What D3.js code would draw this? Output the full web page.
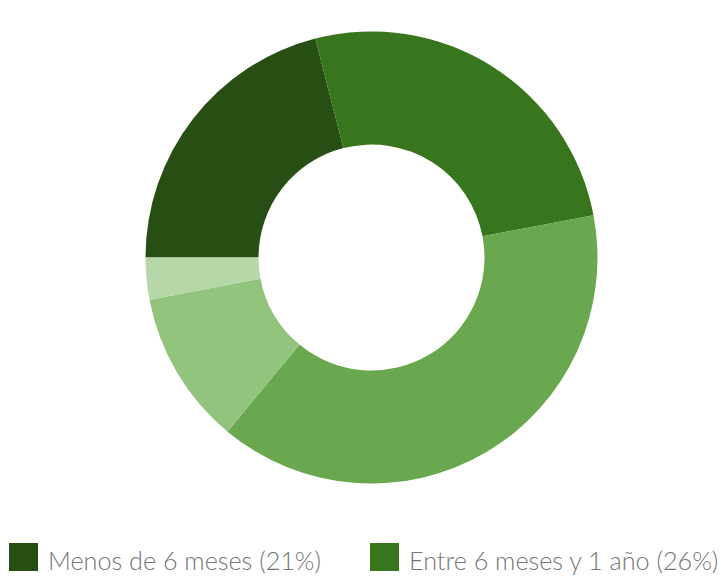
<!DOCTYPE html>
<html>
<head>
<meta charset="utf-8">
<script src="https://cdn.jsdelivr.net/npm/d3@7"></script>
<style>
	body { margin: 0; background: white; }
	svg { display: block; }
</style>
</head>
<body>
<div id="chart"></div>
<script>
// Data.
const categories = ["Menos de 6 meses", "Entre 6 meses y 1 año", "Entre 1 y 2 años", "Entre 2 y 5 años", "Más de 5 años"];
const values = [21, 26, 39, 11, 3];
const colors = ["#274e13", "#38761d", "#6aa84f", "#93c47d", "#b6d7a8"];
const legendShown = 2; // only the first legend page fits in the window


const width = 721, height = 579;
const cx = 371.5, cy = 257.5;
const outerR = 226, innerR = 113;

let svg = d3.select("#chart")
  .append("svg")
	.attr("width", width)
	.attr("height", height);

let pie = d3.pie()
  .value(d=>d.value)
  .sort(null)
  .startAngle(-Math.PI/2)
  .endAngle(3*Math.PI/2);

let arc = d3.arc()
  .innerRadius(innerR)
  .outerRadius(outerR);

let data = categories.map((c,i)=>{
	return {name: c, value: values[i], color: colors[i]}
}) // map

let total = d3.sum(values);

svg.append("g")
	.attr("transform", `translate(${cx},${cy})`)
  .selectAll("path")
  .data(pie(data))
  .enter()
  .append("path")
	.attr("d", arc)
	.attr("fill", d=>d.data.color);


// Legend at the bottom, one row.
let legendX = d3.scalePoint()
  .domain(categories.slice(0, legendShown))
  .range([9, 370]);

let items = svg.append("g")
	.attr("class", "legend")
  .selectAll("g")
  .data(data.slice(0, legendShown))
  .enter()
  .append("g")
	.attr("transform", d=>`translate(${legendX(d.name)},543)`);

items.append("rect")
	.attr("width", 29)
	.attr("height", 28)
	.attr("fill", d=>d.color);

items.append("text")
	.attr("x", 39)
	.attr("y", 27)
	.attr("font-family", "Lato, 'Open Sans', sans-serif")
	.attr("font-weight", 300)
	.attr("font-size", 25.2)
	.attr("fill", "#757575")
	.text(d=>`${d.name} (${Math.round(d.value/total*100)}%)`);
</script>
</body>
</html>
